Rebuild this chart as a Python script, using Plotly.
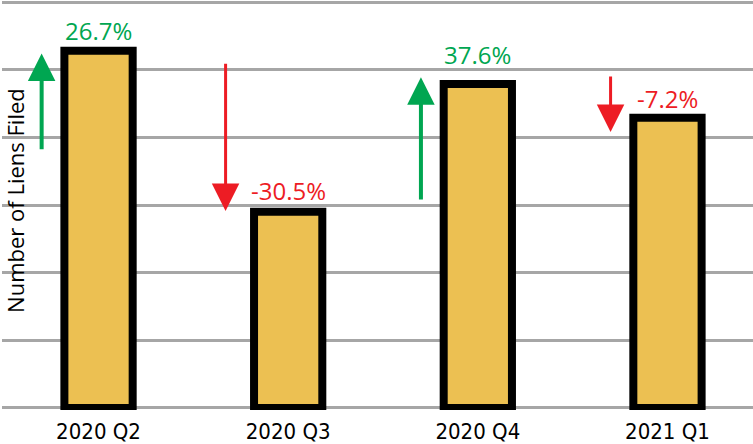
import plotly.graph_objects as go

# Data (y in gridline units, no scale shown)
quarters = ['2020 Q2', '2020 Q3', '2020 Q4', '2021 Q1']
liens_filed = [5.28, 2.90, 4.79, 4.29]
pct_change = [26.7, -30.5, 37.6, -7.2]
arrow_tail = [3.80, 5.11, 3.06, 4.92]
arrow_tip = [5.24, 2.91, 4.89, 4.08]

GREEN = '#00A651'
RED = '#ED1C24'
BAR = '#ECC052'
GRID = '#A6A6A6'

fig = go.Figure()
fig.add_trace(go.Bar(
    x=quarters,
    y=liens_filed,
    width=0.36,
    marker=dict(color=BAR, line=dict(color='black', width=8)),
    hoverinfo='skip'
))

# label offsets / arrow offsets (layout only)
label_shift = [20, 21, 29, 19]
arrow_dx = [-0.30, -0.33, -0.30, -0.30]

annotations = []
for i, p in enumerate(pct_change):
    col = GREEN if p > 0 else RED
    annotations.append(dict(
        x=i, y=liens_filed[i], xref='x', yref='y',
        text=f'{p:.1f}%', showarrow=False, yshift=label_shift[i],
        font=dict(family='Open Sans', size=24, color=col)
    ))
    w = 4 if p > 0 else 3
    annotations.append(dict(
        x=i + arrow_dx[i], y=arrow_tip[i], xref='x', yref='y',
        ax=i + arrow_dx[i], ay=arrow_tail[i], axref='x', ayref='y',
        text='', showarrow=True, arrowhead=2, arrowwidth=w,
        arrowsize=5.5 / w, arrowcolor=col, standoff=0
    ))

annotations.insert(0, dict(
    x=(15 - 2) / 751, y=0.51, xref='paper', yref='paper',
    text='Number of Liens Filed', showarrow=False, textangle=-90,
    xanchor='center', yanchor='middle',
    font=dict(family='Open Sans', size=22, color='black')
))

fig.update_layout(
    width=753, height=444,
    margin=dict(l=2, r=0, t=0, b=30),
    paper_bgcolor='white', plot_bgcolor='white',
    showlegend=False,
    annotations=annotations,
    shapes=[dict(type='rect', xref='paper', yref='paper', layer='between',
                 x0=-0.01, x1=0.077, y0=0.235, y1=0.795,
                 fillcolor='white', line=dict(width=0))],
    xaxis=dict(
        range=[-0.509, 3.451], showgrid=False, zeroline=False,
        showline=False, ticks='', ticklabelstandoff=6,
        tickfont=dict(family='Liberation Sans Narrow, DejaVu Sans Condensed, sans-serif',
                      size=22, color='black')
    ),
    yaxis=dict(
        range=[-0.03, 6.03], dtick=1, showgrid=True, gridcolor=GRID, gridwidth=3,
        zeroline=False, showline=False, showticklabels=False, ticks=''
    )
)

# page body has a default 8px margin, drop it so the figure fills the window
fig.write_html('out.html', config={'displayModeBar': False},
               post_script="document.body.style.margin='0';")
